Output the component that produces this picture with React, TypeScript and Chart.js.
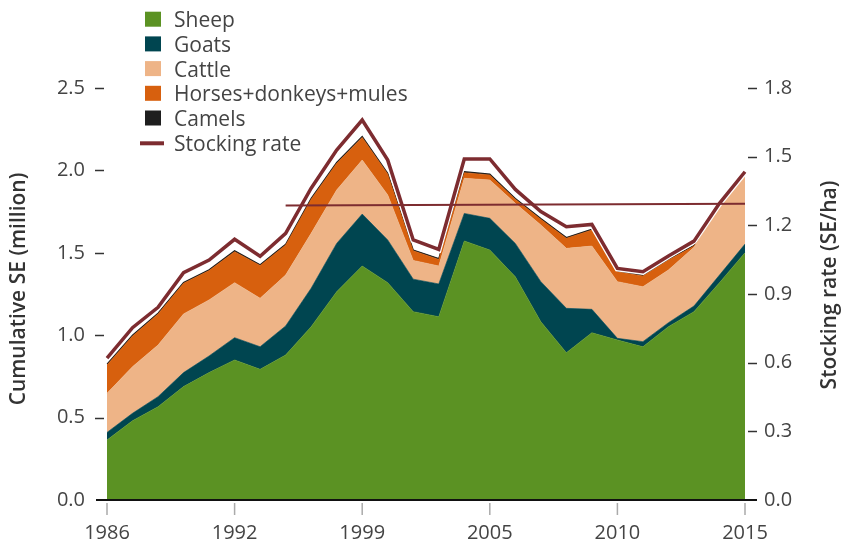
import React, { useEffect, useRef } from 'react';
import { Chart, registerables } from 'chart.js';

Chart.register(...registerables);

// ---- data ----
const years = ['1986', '1987', '1988', '1989', '1990', '1992', '1993', '1994', '1996', '1997', '1999', '2000', '2001', '2002', '2004', '2005', '2006', '2007', '2008', '2009', '2010', '2011', '2012', '2013', '2014', '2015'];
const tickYears = ['1986', '1992', '1999', '2005', '2010', '2015'];

const sheep = [0.364, 0.481, 0.566, 0.688, 0.773, 0.85, 0.793, 0.88, 1.052, 1.264, 1.42, 1.319, 1.143, 1.112, 1.572, 1.517, 1.355, 1.082, 0.894, 1.015, 0.971, 0.93, 1.052, 1.143, 1.319, 1.501];
const goats = [0.046, 0.045, 0.061, 0.085, 0.101, 0.135, 0.137, 0.176, 0.233, 0.293, 0.315, 0.259, 0.197, 0.199, 0.167, 0.192, 0.202, 0.243, 0.269, 0.142, 0.01, 0.031, 0.024, 0.034, 0.046, 0.052];
const cattle = [0.237, 0.283, 0.313, 0.356, 0.34, 0.334, 0.294, 0.309, 0.333, 0.324, 0.328, 0.273, 0.114, 0.109, 0.213, 0.233, 0.243, 0.344, 0.364, 0.384, 0.344, 0.333, 0.32, 0.356, 0.415, 0.429];
const horses = [0.172, 0.186, 0.189, 0.186, 0.178, 0.188, 0.199, 0.182, 0.207, 0.162, 0.137, 0.127, 0.058, 0.04, 0.034, 0.03, 0.025, 0.034, 0.061, 0.097, 0.06, 0.065, 0.06, 0.008, 0, 0];
const camels = [0.005, 0.005, 0.005, 0.005, 0.005, 0.005, 0.005, 0.005, 0.005, 0.005, 0.006, 0.005, 0.005, 0.005, 0.006, 0.005, 0.005, 0.005, 0.005, 0.005, 0.005, 0.005, 0.005, 0.003, 0, 0];
const stockingRate = [0.62, 0.753, 0.842, 0.993, 1.048, 1.139, 1.065, 1.165, 1.362, 1.529, 1.66, 1.485, 1.136, 1.095, 1.49, 1.49, 1.357, 1.26, 1.194, 1.204, 1.012, 0.997, 1.066, 1.131, 1.296, 1.434];
const trendLine = [null, null, null, null, null, null, null, 1.287, null, null, null, null, null, null, null, null, null, null, null, null, null, null, null, null, null, 1.294];

const seriesNames = ['Sheep', 'Goats', 'Cattle', 'Horses+donkeys+mules', 'Camels'];
const seriesColors = ['#5b9223', '#004550', '#eeb487', '#d7600e', '#1e1e1e'];
const stockingName = 'Stocking rate';
const stockingColor = '#7d2c30';

const FONT = '"Open Sans", "DejaVu Sans", sans-serif';

const overlayPlugin = {
  id: 'overlay',
  afterDatasetsDraw(chart: any) {
    const ctx = chart.ctx;
    const area = chart.chartArea;
    const xs = chart.scales.x;
    const y = chart.scales.y;
    const y2 = chart.scales.y2;
    ctx.save();
    // baseline
    ctx.fillStyle = '#111';
    ctx.fillRect(area.left - 11, area.bottom - 1, area.right - area.left + 23, 2);
    // x tick marks
    ctx.strokeStyle = '#aaaaaa';
    ctx.lineWidth = 1.5;
    xs.ticks.forEach((t: any, i: number) => {
      const lab = years[t.value];
      if (!tickYears.includes(lab)) return;
      const px = xs.getPixelForTick(i);
      ctx.beginPath();
      ctx.moveTo(px, area.bottom + 3);
      ctx.lineTo(px, area.bottom + 15);
      ctx.stroke();
    });
    // y tick dashes
    ctx.strokeStyle = '#333';
    ctx.lineWidth = 1.5;
    y.ticks.forEach((t: any) => {
      const py = Math.round(y.getPixelForValue(t.value)) + 0.5;
      if (t.value === 0) return;
      ctx.beginPath();
      ctx.moveTo(area.left - 12, py);
      ctx.lineTo(area.left - 3, py);
      ctx.stroke();
    });
    y2.ticks.forEach((t: any) => {
      const py = Math.round(y2.getPixelForValue(t.value)) + 0.5;
      if (t.value === 0) return;
      ctx.beginPath();
      ctx.moveTo(area.right + 3, py);
      ctx.lineTo(area.right + 12, py);
      ctx.stroke();
    });
    // axis titles
    ctx.fillStyle = '#333';
    ctx.font = `600 21px ${FONT}`;
    ctx.textAlign = 'center';
    ctx.textBaseline = 'middle';
    const cy = (area.top + area.bottom) / 2 - 5;
    ctx.save();
    ctx.translate(19, cy);
    ctx.rotate(-Math.PI / 2);
    ctx.fillText('Cumulative SE (million)', 0, 0);
    ctx.restore();
    ctx.save();
    ctx.translate(830, cy - 4);
    ctx.rotate(-Math.PI / 2);
    ctx.fillText('Stocking rate (SE/ha)', 0, 0);
    ctx.restore();
    // legend
    ctx.font = `21px ${FONT}`;
    ctx.textAlign = 'left';
    ctx.textBaseline = 'alphabetic';
    const rowH = 24.7;
    const base0 = 27.3;
    seriesNames.forEach((name, i) => {
      const b = base0 + i * rowH;
      ctx.fillStyle = seriesColors[i];
      ctx.fillRect(145, b - 15.6, 16, 15);
      ctx.fillStyle = '#444';
      ctx.fillText(name, 174, b);
    });
    const bs = base0 + seriesNames.length * rowH;
    ctx.strokeStyle = stockingColor;
    ctx.lineWidth = 4;
    ctx.beginPath();
    ctx.moveTo(140, bs - 7.5);
    ctx.lineTo(164, bs - 7.5);
    ctx.stroke();
    ctx.fillStyle = '#444';
    ctx.fillText(stockingName, 174, bs);
    ctx.restore();
  },
};

export default function App() {
  const ref = useRef<HTMLCanvasElement>(null);
  useEffect(() => {
    const canvas = ref.current!;
    const areaSeries = [sheep, goats, cattle, horses, camels];
    const datasets: any[] = areaSeries.map((d, i) => ({
      label: seriesNames[i],
      data: d,
      backgroundColor: seriesColors[i],
      borderColor: seriesColors[i],
      borderWidth: i === 4 ? 1.2 : 0.6,
      fill: i === 0 ? 'origin' : '-1',
      yAxisID: 'y',
      pointRadius: 0,
      tension: 0,
      order: 3,
    }));
    datasets.push({
      label: 'halo',
      data: stockingRate,
      borderColor: '#ffffff',
      borderWidth: 6,
      fill: false,
      yAxisID: 'y2',
      pointRadius: 0,
      tension: 0,
      borderJoinStyle: 'miter',
      order: 2,
    });
    datasets.push({
      label: stockingName,
      data: stockingRate,
      borderColor: stockingColor,
      borderWidth: 3.5,
      fill: false,
      yAxisID: 'y2',
      pointRadius: 0,
      tension: 0,
      borderJoinStyle: 'miter',
      order: 1,
    });
    datasets.push({
      label: 'trend',
      data: trendLine,
      borderColor: stockingColor,
      borderWidth: 2,
      fill: false,
      spanGaps: true,
      yAxisID: 'y2',
      pointRadius: 0,
      tension: 0,
      order: 0,
    });
    const tickFont = { family: FONT, size: 20 };
    const chart = new Chart(canvas, {
      type: 'line',
      data: { labels: years, datasets },
      plugins: [overlayPlugin],
      options: {
        responsive: false,
        animation: false,
        devicePixelRatio: 1,
        layout: { padding: { top: 88, left: 0, right: 0, bottom: 0 } },
        plugins: { legend: { display: false }, tooltip: { enabled: false }, title: { display: false } },
        elements: { line: { borderCapStyle: 'butt' } },
        scales: {
          x: {
            type: 'category',
            grid: { display: false, drawTicks: false },
            border: { display: false },
            ticks: {
              autoSkip: false,
              maxRotation: 0,
              minRotation: 0,
              padding: 21,
              color: '#444',
              font: tickFont,
              callback: function (this: any, v: any) {
                const lab = this.getLabelForValue(v);
                return tickYears.includes(lab) ? lab : '';
              },
            },
            afterFit: (s: any) => { s.height = 43; },
          },
          y: {
            position: 'left',
            stacked: true,
            min: 0,
            max: 2.5,
            grid: { display: false, drawTicks: false },
            border: { display: false },
            ticks: { stepSize: 0.5, padding: 22, color: '#444', font: tickFont, callback: (v: any) => Number(v).toFixed(1) },
            afterFit: (s: any) => { s.width = 107; },
          },
          y2: {
            position: 'right',
            stacked: false,
            min: 0,
            max: 1.8,
            grid: { display: false, drawTicks: false },
            border: { display: false },
            ticks: { stepSize: 0.3, padding: 19, color: '#444', font: tickFont, callback: (v: any) => Number(v).toFixed(1) },
            afterFit: (s: any) => { s.width = 98; },
          },
        },
      } as any,
    });
    return () => chart.destroy();
  }, []);
  return (
    <div style={{ position: 'fixed', left: 0, top: 0, width: 843, height: 543, background: '#fff' }}>
      <canvas ref={ref} width={843} height={543} style={{ display: 'block' }} />
    </div>
  );
}
